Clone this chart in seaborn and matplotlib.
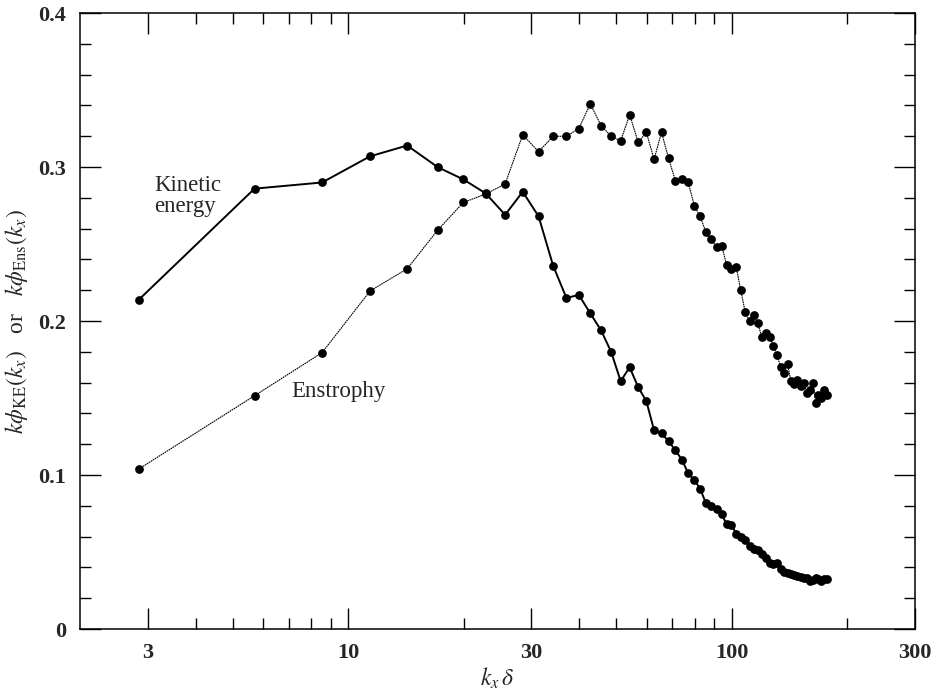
import numpy as np
import pandas as pd
import matplotlib
matplotlib.use("Agg")
import matplotlib.pyplot as plt
import seaborn as sns
from matplotlib.ticker import FixedLocator, NullFormatter

# wavenumber k_x * delta (one point per mode)
kx_delta = [2.85, 5.70, 8.55, 11.40, 14.25, 17.10, 19.95, 22.80, 25.65, 28.50,
            31.35, 34.20, 37.05, 39.90, 42.75, 45.60, 48.45, 51.30, 54.15, 57.00,
            59.85, 62.70, 65.55, 68.40, 71.25, 74.10, 76.95, 79.80, 82.65, 85.50,
            88.35, 91.20, 94.05, 96.90, 99.75, 102.60, 105.45, 108.30, 111.15, 114.00,
            116.85, 119.70, 122.55, 125.40, 128.25, 131.10, 133.95, 136.80, 139.65, 142.50,
            145.35, 148.20, 151.05, 153.90, 156.75, 159.60, 162.45, 165.30, 168.15, 171.00,
            173.85, 176.70]

kinetic_energy = [0.214, 0.286, 0.290, 0.307, 0.314, 0.300, 0.292, 0.283, 0.269, 0.284,
                  0.268, 0.236, 0.215, 0.217, 0.205, 0.194, 0.180, 0.161, 0.170, 0.157,
                  0.148, 0.129, 0.127, 0.122, 0.116, 0.110, 0.101, 0.097, 0.091, 0.082,
                  0.080, 0.078, 0.0745, 0.068, 0.0675, 0.062, 0.0595, 0.058, 0.054, 0.052,
                  0.051, 0.049, 0.046, 0.043, 0.042, 0.043, 0.039, 0.037, 0.0365, 0.036,
                  0.035, 0.0345, 0.034, 0.0333, 0.033, 0.0315, 0.032, 0.033, 0.0322, 0.031,
                  0.0325, 0.0325]

enstrophy = [0.104, 0.1515, 0.1795, 0.2195, 0.234, 0.259, 0.277, 0.2825, 0.289, 0.321,
             0.310, 0.320, 0.320, 0.325, 0.341, 0.327, 0.320, 0.317, 0.334, 0.316,
             0.3225, 0.305, 0.3227, 0.3056, 0.291, 0.292, 0.290, 0.275, 0.268, 0.258,
             0.253, 0.248, 0.249, 0.2364, 0.234, 0.2353, 0.220, 0.206, 0.200, 0.204,
             0.1985, 0.1894, 0.192, 0.1898, 0.184, 0.178, 0.170, 0.166, 0.172, 0.161,
             0.159, 0.162, 0.158, 0.160, 0.153, 0.155, 0.160, 0.147, 0.152, 0.150,
             0.155, 0.152]

x_major = [3, 10, 30, 100, 300]
x_major_labels = ["3", "10", "30", "100", "300"]
x_minor = [4, 5, 6, 7, 8, 9, 20, 40, 50, 60, 70, 80, 90, 200]
y_major = [0, 0.1, 0.2, 0.3, 0.4]
y_major_labels = ["0", "0.1", "0.2", "0.3", "0.4"]

sns.set_theme(style="ticks")
plt.rcParams["font.family"] = ["Liberation Serif", "DejaVu Serif"]
plt.rcParams["mathtext.fontset"] = "stix"

df_ke = pd.DataFrame({"k": kx_delta, "v": kinetic_energy})
df_en = pd.DataFrame({"k": kx_delta, "v": enstrophy})

fig = plt.figure(figsize=(9.39, 6.90), dpi=100)
ax = fig.add_axes([0.0852, 0.0884, 0.8892, 0.8926])

sns.lineplot(data=df_ke, x="k", y="v", ax=ax, color="black", linewidth=1.4,
             marker="o", markersize=6.3, markeredgewidth=0, sort=False)
sns.lineplot(data=df_en, x="k", y="v", ax=ax, color="black", linewidth=0.8,
             linestyle=(0, (1.5, 0.6)), marker="o", markersize=6.3,
             markeredgewidth=0, sort=False)

ax.set_xscale("log")
ax.set_xlim(2, 300)
ax.set_ylim(0, 0.4)

ax.xaxis.set_major_locator(FixedLocator(x_major))
ax.set_xticklabels(x_major_labels)
ax.xaxis.set_minor_locator(FixedLocator(x_minor))
ax.xaxis.set_minor_formatter(NullFormatter())
ax.set_yticks(y_major)
ax.set_yticklabels(y_major_labels)
ax.set_yticks(np.arange(0, 0.41, 0.02), minor=True)

ax.tick_params(which="both", direction="in", top=True, right=True,
               color="black", width=1.0, labelsize=16, pad=10)
ax.tick_params(which="major", length=15)
ax.tick_params(which="minor", length=8)
for s in ax.spines.values():
    s.set_color("black")
    s.set_linewidth(1.1)
for lbl in ax.get_xticklabels() + ax.get_yticklabels():
    lbl.set_fontweight("bold")

ax.set_xlabel(r"$k_x\,\delta$", fontsize=17, labelpad=2)
ax.set_ylabel(r"$k\phi_{\mathrm{KE}}(k_x)$   or   $k\phi_{\mathrm{Ens}}(k_x)$",
              fontsize=17, labelpad=6)

ax.text(3.12, 0.281, "Kinetic\nenergy", fontsize=16.5, ha="left", va="center",
        linespacing=1.0)
ax.text(7.1, 0.154, "Enstrophy", fontsize=16.5, ha="left", va="center")

fig.savefig("out.png", dpi=100)
